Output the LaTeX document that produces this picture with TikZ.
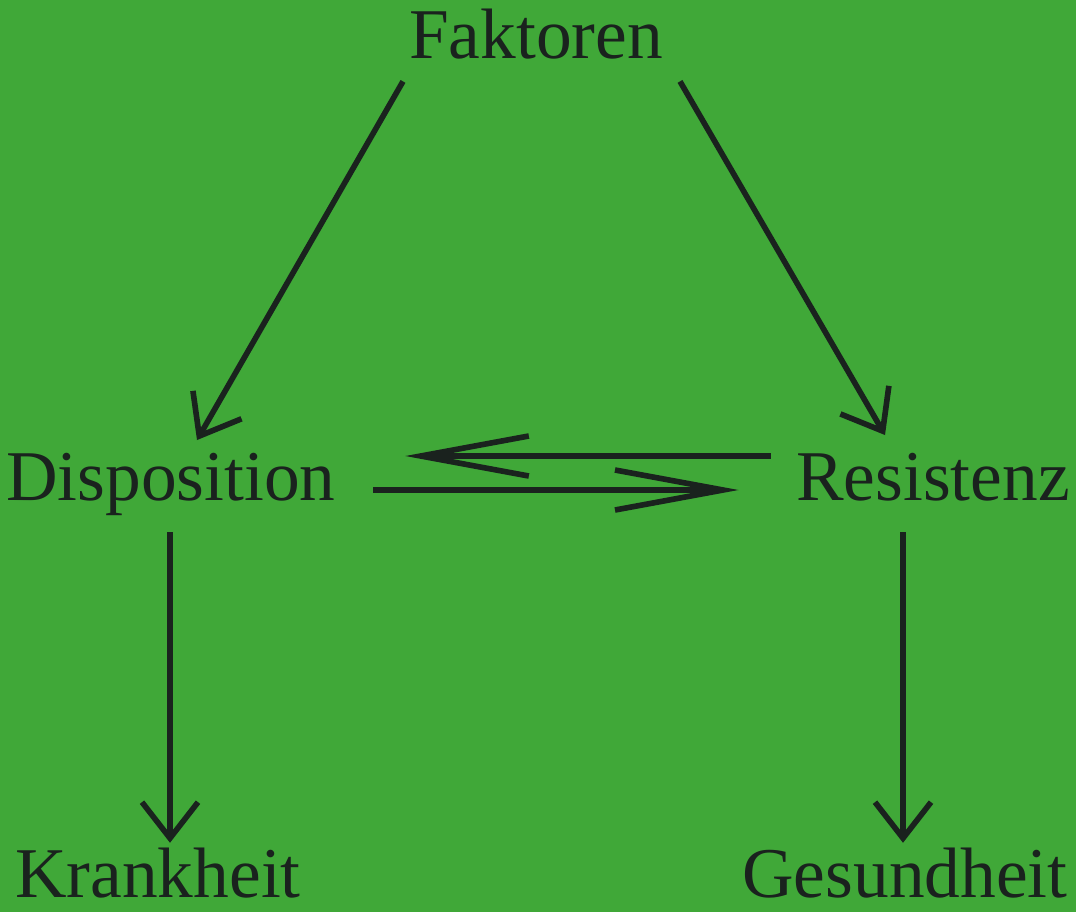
\documentclass[tikz,border=0pt]{standalone}
\usepackage{fontspec}
\setmainfont{Liberation Serif}
\usepackage{xcolor}
\usepackage{tikz}
\usetikzlibrary{arrows.meta, positioning}

\definecolor{bggreen}{RGB}{64,168,56}
\definecolor{ink}{RGB}{26,34,30}

\begin{document}
\begin{tikzpicture}[
  x=0.01cm, y=-0.01cm,
  lbl/.style={anchor=base, inner sep=0pt, text=ink, font=\fontsize{20.3}{24}\selectfont},
  arrow/.style={-{Straight Barb[length=0.36cm, width=0.56cm, line join=miter]}, line width=1.6pt, draw=ink},
  longarrow/.style={-{Straight Barb[length=1.08cm, width=0.40cm, line join=miter]}, line width=1.6pt, draw=ink}
]
\fill[bggreen] (0,0) rectangle (1076,912);
\useasboundingbox (0,0) rectangle (1076,912);

\node[lbl] (Faktoren) at (536,58) {Faktoren};
\node[lbl] (Disposition) at (171,500) {Disposition};
\node[lbl] (Resistenz) at (933,500) {Resistenz};
\node[lbl] (Krankheit) at (158,897) {Krankheit};
\node[lbl] (Gesundheit) at (905,897) {Gesundheit};

\draw[arrow] ([shift={(-133,22)}]Faktoren.south) -- ([shift={(26,-12)}]Disposition.north);
\draw[arrow] ([shift={(144,22)}]Faktoren.south) -- ([shift={(-48,-17)}]Resistenz.north);

\draw[longarrow] ([shift={(-25,-44)}]Resistenz.base west) -- ([shift={(69,-44)}]Disposition.base east);
\draw[longarrow] ([shift={(37,-10)}]Disposition.base east) -- ([shift={(-57,-10)}]Resistenz.base west);

\draw[arrow] ([shift={(-1,32)}]Disposition.base) -- ([shift={(12,-4)}]Krankheit.north);
\draw[arrow] ([shift={(-30,32)}]Resistenz.base) -- ([shift={(-2,-4)}]Gesundheit.north);
\end{tikzpicture}
\end{document}
